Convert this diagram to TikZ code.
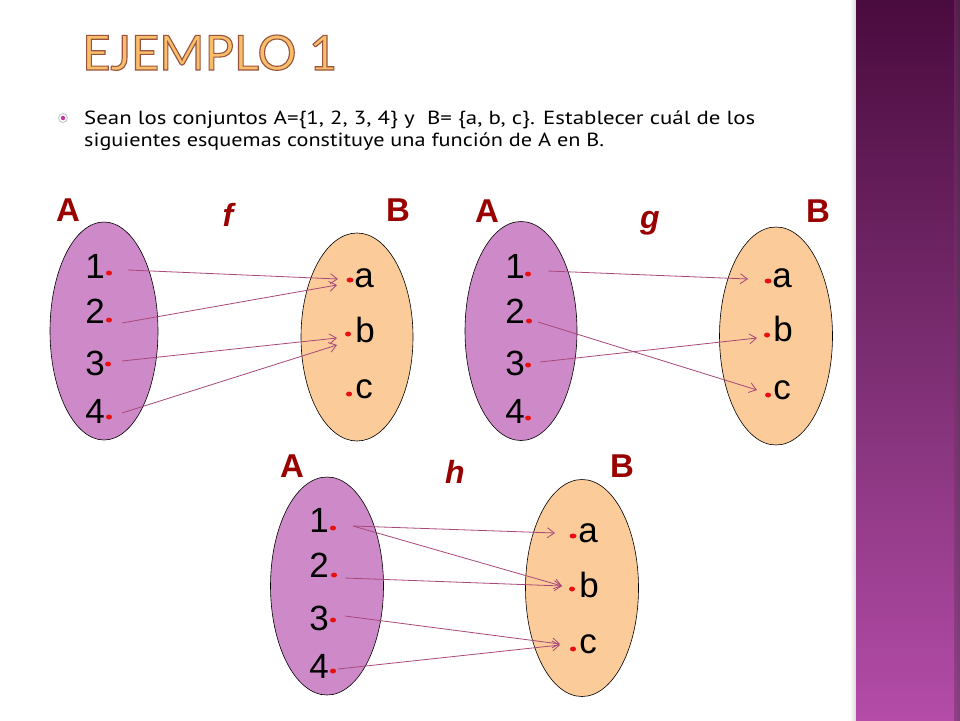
\documentclass[tikz,border=0pt]{standalone}
\usepackage{fontspec}
\setmainfont{Liberation Sans}
\newfontfamily\bodyfont{PT Sans}
\newfontfamily\ttlfont{Lato}
\usetikzlibrary{shapes.geometric,arrows.meta}
\definecolor{setAc}{HTML}{CE8AC8}
\definecolor{setBc}{HTML}{FBCB99}
\definecolor{arrc}{HTML}{A8487A}
\definecolor{lblc}{HTML}{990000}
\definecolor{dotred}{HTML}{E81010}
\definecolor{sidetop}{HTML}{4A0B3E}
\definecolor{sidemid}{HTML}{7C2E72}
\definecolor{sidebot}{HTML}{B44CA8}
\definecolor{ttlfill}{HTML}{F8BE6A}
\definecolor{bulletc}{HTML}{C0389F}
\newcommand\ttltext{\resizebox{255pt}{35pt}{\ttlfont\fontsize{48}{48}\selectfont\special{pdf:literal direct 0.60 0.33 0.25 RG 2 Tr 1.1 w}EJEMPLO 1\special{pdf:literal direct 0 Tr}}}
\begin{document}
\begin{tikzpicture}[x=1pt,y=-1pt,
  elA/.style={ellipse,draw=black,line width=0.6pt,fill=setAc,inner sep=0pt},
  elB/.style={ellipse,draw=black,line width=0.6pt,fill=setBc,inner sep=0pt},
  elem/.style={font=\fontsize{35}{35}\selectfont,anchor=base,inner sep=0pt},
  ptdot/.style={ellipse,fill=dotred,inner sep=0pt,minimum width=6pt,minimum height=5pt},
  setlbl/.style={font=\fontsize{33}{33}\selectfont\bfseries,text=lblc,anchor=base,inner sep=0pt},
  fnlbl/.style={font=\fontsize{32}{32}\selectfont\bfseries\itshape,text=lblc,anchor=base,inner sep=0pt},
  arr/.style={draw=arrc,line width=0.8pt,-{Straight Barb[length=7pt,width=10pt]}},
  bodytxt/.style={font=\bodyfont\fontsize{19}{19}\selectfont,anchor=base west,inner sep=0pt}
]
\useasboundingbox (0,0) rectangle (960,720);
\fill[white] (0,0) rectangle (960,720);
% sidebar
\shade[left color=white,right color=black!15] (850,0) rectangle (856,720);
\shade[top color=sidetop,bottom color=sidemid] (856,0) rectangle (960,360);
\shade[top color=sidemid,bottom color=sidebot] (856,360) rectangle (960,720);
\shade[left color=sidemid,right color=black!75,opacity=0.5] (954,0) rectangle (960,720);

% title
\node[anchor=base west,inner sep=0pt,text=ttlfill] (title) at (82,70) {\ttltext};

% bullet text
\node[circle,draw=black!25,line width=0.8pt,fill=white,minimum size=9pt,inner sep=0pt] (bul) at (63,118) {};
\node[circle,fill=bulletc,minimum size=4.5pt,inner sep=0pt] (buldot) at (63,118) {};
\node[bodytxt] (line1) at (84,124) {\resizebox{671pt}{\height}{Sean los conjuntos A=\{1, 2, 3, 4\} y\ \ B= \{a, b, c\}. Establecer cuál de los}};
\node[bodytxt] (line2) at (84,146) {\resizebox{520pt}{\height}{siguientes esquemas constituye una función de A en B.}};

% ---------- f ----------
\node[elA,minimum width=108pt,minimum height=218pt] (fA) at (104,331) {};
\node[elB,minimum width=112pt,minimum height=208pt] (fB) at (357,337) {};
\node[setlbl] (fAl) at (68,221) {A};
\node[setlbl] (fBl) at (398,221) {B};
\node[fnlbl] (fl) at (228,226) {f};
\node[elem] (ft1) at (95,278) {1};
\node[elem] (ft2) at (95,323) {2};
\node[elem] (ft3) at (95,375) {3};
\node[elem] (ft4) at (95,423) {4};
\node[elem] (fta) at (364,287) {a};
\node[elem] (ftb) at (365,342) {b};
\node[elem] (ftc) at (364,398) {c};
\node[ptdot] (f1) at (109,273) {};
\node[ptdot] (f2) at (109,320) {};
\node[ptdot] (f3) at (108,364) {};
\node[ptdot] (f4) at (109,417) {};
\node[ptdot,minimum width=7pt] (fa) at (350,280) {};
\node[ptdot] (fb) at (348,334) {};
\node[ptdot] (fc) at (349,394) {};
\draw[arr] ([shift={(19,-3)}]f1.center) -- ([shift={(-12,-1)}]fa.center);
\draw[arr] ([shift={(13,3)}]f2.center) -- ([shift={(-13,5)}]fa.center);
\draw[arr] ([shift={(14,-3)}]f3.center) -- ([shift={(-11,4)}]fb.center);
\draw[arr] ([shift={(13,-4)}]f4.center) -- ([shift={(-11,11)}]fb.center);

% ---------- g ----------
\node[elA,minimum width=112pt,minimum height=219pt] (gA) at (521,331) {};
\node[elB,minimum width=113pt,minimum height=218pt] (gB) at (776,336) {};
\node[setlbl] (gAl) at (487,222) {A};
\node[setlbl] (gBl) at (818,222) {B};
\node[fnlbl] (gl) at (650,228) {g};
\node[elem] (gt1) at (515,278) {1};
\node[elem] (gt2) at (515,323) {2};
\node[elem] (gt3) at (515,375) {3};
\node[elem] (gt4) at (515,423) {4};
\node[elem] (gta) at (782,287) {a};
\node[elem] (gtb) at (783,341) {b};
\node[elem] (gtc) at (782,399) {c};
\node[ptdot] (g1) at (528,274) {};
\node[ptdot] (g2) at (529,321) {};
\node[ptdot] (g3) at (528,365) {};
\node[ptdot] (g4) at (528,418) {};
\node[ptdot,minimum width=7pt] (ga) at (768,281) {};
\node[ptdot] (gb) at (767,335) {};
\node[ptdot] (gc) at (768,395) {};
\draw[arr] ([shift={(20,-3)}]g1.center) -- ([shift={(-20,-2)}]ga.center);
\draw[arr] ([shift={(9,1)}]g2.center) -- ([shift={(-11,-5)}]gc.center);
\draw[arr] ([shift={(12,-3)}]g3.center) -- ([shift={(-10,3)}]gb.center);

% ---------- h ----------
\node[elA,minimum width=113pt,minimum height=218pt] (hA) at (327,586) {};
\node[elB,minimum width=113pt,minimum height=217pt] (hB) at (582,588) {};
\node[setlbl] (hAl) at (292,477) {A};
\node[setlbl] (hBl) at (622,477) {B};
\node[fnlbl] (hl) at (455,483) {h};
\node[elem] (ht1) at (319,532) {1};
\node[elem] (ht2) at (319,577) {2};
\node[elem] (ht3) at (319,630) {3};
\node[elem] (ht4) at (319,678) {4};
\node[elem] (hta) at (588,542) {a};
\node[elem] (htb) at (589,597) {b};
\node[elem] (htc) at (588,653) {c};
\node[ptdot] (h1) at (333,528) {};
\node[ptdot] (h2) at (334,575) {};
\node[ptdot] (h3) at (333,620) {};
\node[ptdot] (h4) at (333,671) {};
\node[ptdot,minimum width=7pt] (ha) at (573,536) {};
\node[ptdot] (hb) at (572,589) {};
\node[ptdot] (hc) at (573,649) {};
\draw[arr] ([shift={(20,-2)}]h1.center) -- ([shift={(-18,-3)}]ha.center);
\draw[arr] ([shift={(20,-2)}]h1.center) -- ([shift={(-10,-3)}]hb.center);
\draw[arr] ([shift={(11,3)}]h2.center) -- ([shift={(-10,-3)}]hb.center);
\draw[arr] ([shift={(12,-4)}]h3.center) -- ([shift={(-13,-5)}]hc.center);
\draw[arr] ([shift={(5,-2)}]h4.center) -- ([shift={(-13,-4)}]hc.center);
\end{tikzpicture}
\end{document}
